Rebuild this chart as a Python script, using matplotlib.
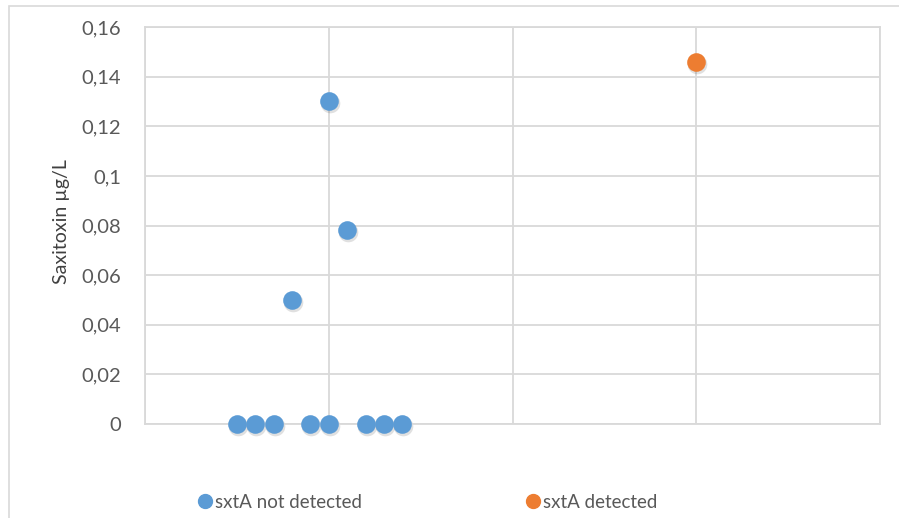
import matplotlib
matplotlib.use("Agg")
import matplotlib.pyplot as plt
from matplotlib.patches import Rectangle
from matplotlib.lines import Line2D
import matplotlib.transforms as mtransforms

plt.rcParams['font.family'] = ['Lato', 'DejaVu Sans']

# Data
x_not_detected = [0.5, 0.6, 0.7, 0.8, 0.9, 1.0, 1.0, 1.1, 1.2, 1.3, 1.4]
y_not_detected = [0, 0, 0, 0.05, 0, 0, 0.13, 0.078, 0, 0, 0]
x_detected = [3.0]
y_detected = [0.146]
y_ticks = [0, 0.02, 0.04, 0.06, 0.08, 0.10, 0.12, 0.14, 0.16]
y_tick_labels = ["0", "0,02", "0,04", "0,06", "0,08", "0,1", "0,12", "0,14", "0,16"]
x_grid = [0, 1, 2, 3, 4]
series_labels = ["sxtA not detected", "sxtA detected"]

blue = "#5B9BD5"
orange = "#ED7D31"
grid_c = "#D9D9D9"
text_c = "#595959"

fig = plt.figure(figsize=(8.99, 5.18), dpi=100)
W, H = 899, 518
ax = fig.add_axes([145 / W, 1 - 424 / H, (880 - 145) / W, (424 - 27) / H])

# outer chart border
fig.patches.append(Rectangle((9 / W, -0.1), 1.2, (1 - 6 / H) + 0.1, transform=fig.transFigure,
                             fill=False, edgecolor=grid_c, linewidth=1.2))

ax.set_xlim(0, 4)
ax.set_ylim(0, 0.16)
ax.set_xticks(x_grid)
ax.set_xticklabels([])
ax.set_yticks(y_ticks)
ax.set_yticklabels(y_tick_labels, color=text_c, fontsize=14.5)
ax.tick_params(axis='both', length=0)
ax.tick_params(axis='y', pad=17)
ax.grid(True, color=grid_c, linewidth=1.3)
ax.set_axisbelow(True)
for s in ax.spines.values():
    s.set_color(grid_c)
    s.set_linewidth(1.3)

shadow_tr = ax.transData + mtransforms.ScaledTranslation(1 / 100, -2 / 100, fig.dpi_scale_trans)
ax.scatter(x_not_detected, y_not_detected, s=200, color="#000000", alpha=0.12,
           zorder=2, linewidths=0, clip_on=False, transform=shadow_tr)
ax.scatter(x_detected, y_detected, s=200, color="#000000", alpha=0.12,
           zorder=2, linewidths=0, clip_on=False, transform=shadow_tr)

ax.scatter(x_not_detected, y_not_detected, s=180, color=blue, zorder=3, linewidths=0, clip_on=False,
           label=series_labels[0])
ax.scatter(x_detected, y_detected, s=180, color=orange, zorder=3, linewidths=0, clip_on=False,
           label=series_labels[1])

ax.set_ylabel("Saxitoxin µg/L", color="#404040", fontsize=14)
ax.yaxis.set_label_coords((70 - 145) / 735, 0.51)

handles = [Line2D([], [], marker='o', linestyle='none', markersize=10, color=blue),
           Line2D([], [], marker='o', linestyle='none', markersize=10, color=orange)]
leg = fig.legend(handles, series_labels, loc='center', bbox_to_anchor=(426.5 / W, 1 - 502 / H),
                 ncol=2, frameon=False, fontsize=13.5, handletextpad=0.05, columnspacing=8.6,
                 handlelength=1.0, labelcolor=text_c)

fig.savefig("out.png", dpi=100)
